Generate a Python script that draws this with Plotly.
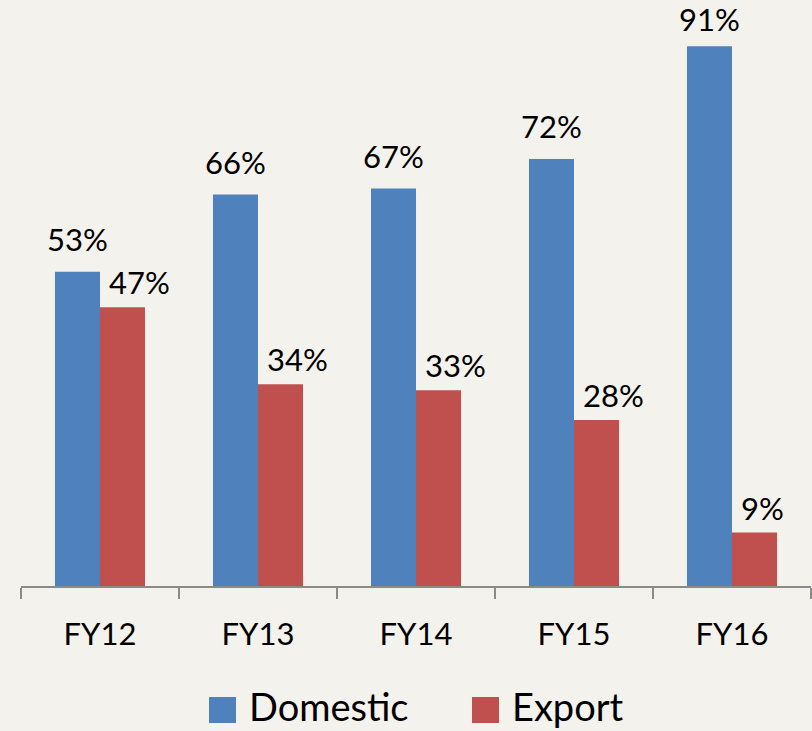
import plotly.graph_objects as go

categories = ["FY12", "FY13", "FY14", "FY15", "FY16"]
domestic = [53, 66, 67, 72, 91]
export = [47, 34, 33, 28, 9]
series_names = ["Domestic", "Export"]
series_colors = ["#4F81BD", "#C0504D"]

BG = "#F4F2ED"
FONT = "Lato"
Y_MAX = 98.8
PLOT_H = 586

fig = go.Figure()
for name, vals, col in zip(series_names, [domestic, export], series_colors):
    fig.add_trace(go.Bar(x=categories, y=vals, name=name, marker_color=col,
                         marker_line_width=0, showlegend=False))

# data labels (style per series: xanchor, xshift, yshift)
label_style = [("center", -22.5, 12), ("left", 7, 4)]
ppu = PLOT_H / Y_MAX
for vals, (xa, xs, ys) in zip([domestic, export], label_style):
    for c, v in zip(categories, vals):
        # keep the label inside the chart area (like Excel does)
        ysh = min(ys, PLOT_H - v * ppu - 40)
        fig.add_annotation(x=c, y=v, xref="x", yref="y", text=f"{v}%",
                           showarrow=False, xshift=xs, yshift=ysh,
                           yanchor="bottom", xanchor=xa,
                           font=dict(family=FONT, size=31, color="#000"))

# custom legend (large square swatches)
legend_x = [209, 472]
for name, col, lx in zip(series_names, series_colors, legend_x):
    fig.add_shape(type="rect", xref="paper", yref="paper",
                  x0=(lx - 21) / 790, x1=(lx + 27 - 21) / 790,
                  y0=-(723 - 586) / 586, y1=-(697 - 586) / 586,
                  fillcolor=col, line_width=0)
    fig.add_annotation(xref="paper", yref="paper",
                       x=(lx + 39 - 21) / 790, y=-(706 - 586) / 586,
                       text=name, showarrow=False, xanchor="left", yanchor="middle",
                       borderpad=0,
                       font=dict(family=FONT, size=38, color="#000"))

fig.update_layout(
    width=812, height=731,
    margin=dict(l=21, r=1, t=0, b=145),
    paper_bgcolor=BG, plot_bgcolor=BG,
    bargap=0.43, bargroupgap=0,
    barmode="group",
    xaxis=dict(showline=True, linecolor="#8A8A8A", linewidth=2,
               ticks="outside", tickson="boundaries", ticklen=11,
               tickcolor="#8A8A8A", tickwidth=2,
               ticklabelstandoff=20,
               tickfont=dict(family=FONT, size=31, color="#000"),
               showgrid=False),
    yaxis=dict(range=[0, Y_MAX], visible=False, showgrid=False, zeroline=False),
)

fig.write_html("out.html", config={"displayModeBar": False},
               post_script="document.body.style.margin='0';document.body.style.overflow='hidden';")
